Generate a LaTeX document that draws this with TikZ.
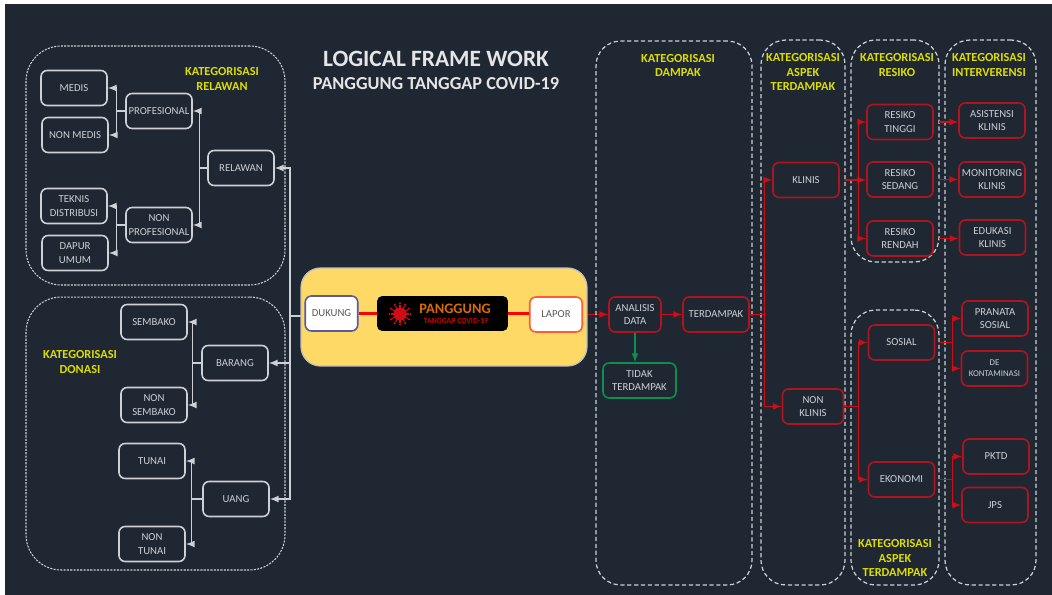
\documentclass[tikz,border=0pt]{standalone}
\usepackage{fontspec}
\setmainfont{Carlito}
\usepackage{tikz}
\usetikzlibrary{shapes}
\usetikzlibrary{arrows}
\usetikzlibrary{positioning}
\definecolor{latar}{HTML}{1F2733}
\definecolor{garis}{HTML}{CDD0D5}
\definecolor{merah}{HTML}{B0141E}
\definecolor{panah}{HTML}{D00C14}
\definecolor{judul}{HTML}{DDDD00}
\definecolor{hijau}{HTML}{0E8F4F}
\definecolor{emas}{HTML}{FFD966}
\pgfdeclarelayer{belakang}
\pgfsetlayers{belakang,main}
\tikzstyle{kotak}=[
        rectangle,
        draw,
        rounded corners=3.5pt,
        line width=0.9pt,
        minimum width=1.32cm,
        minimum height=0.7cm,
        inner sep=0pt,
        align=center,
        text=garis,
        font=\fontsize{6.1}{7.7}\selectfont
]
\tikzstyle{putih}=[kotak,draw=garis]
\tikzstyle{kotakmerah}=[kotak,draw=merah]
\tikzstyle{kotakhijau}=[kotak,draw=hijau,minimum width=1.46cm]
\tikzstyle{terang}=[kotak,fill=white,text=black!65,minimum width=1.05cm]
\tikzstyle{grupkiri}=[rectangle,draw=garis,line width=0.6pt,dash pattern=on 1.2pt off 0.7pt,rounded corners=20pt,inner sep=0pt]
\tikzstyle{grupkanan}=[rectangle,draw=garis,line width=0.7pt,dash pattern=on 2.4pt off 1.5pt,rounded corners=14pt,inner sep=0pt]
\tikzstyle{kategori}=[align=center,text=judul,inner sep=0pt,font=\fontsize{7}{8.3}\selectfont\bfseries]
\tikzstyle{panahputih}=[->,>=latex,draw=garis,line width=0.75pt]
\tikzstyle{panahmerah}=[->,>=latex,draw=panah,line width=0.75pt]
\begin{document}
\begin{tikzpicture}[x=0.02cm,y=-0.02cm]
\useasboundingbox (0,0) rectangle (1052,595);
\begin{pgfonlayer}{belakang}
\fill[latar] (5,4) rectangle (1052,595);
\end{pgfonlayer}
%grup
\node[grupkiri,minimum width=5.18cm,minimum height=4.78cm] (grelawan) at (155.5,165.5) {};
\node[grupkiri,minimum width=5.18cm,minimum height=5.46cm] (gdonasi) at (155.5,433.5) {};
\node[grupkanan,minimum width=3.12cm,minimum height=10.88cm] (gdampak) at (674,313) {};
\node[grupkanan,minimum width=1.68cm,minimum height=10.9cm] (gaspek) at (803,312.5) {};
\node[grupkanan,minimum width=1.76cm,minimum height=4.44cm] (gresiko) at (895,151) {};
\node[grupkanan,minimum width=1.76cm,minimum height=5.5cm] (gaspekdua) at (895,447.5) {};
\node[grupkanan,minimum width=1.82cm,minimum height=10.9cm] (gintervensi) at (990.5,312.5) {};
%judul
\node[text=white!90!black,inner sep=0pt,font=\fontsize{13.3}{16}\selectfont\bfseries] (judulsatu) at (436,59) {LOGICAL FRAME WORK};
\node[text=white!90!black,inner sep=0pt,font=\fontsize{10.4}{13}\selectfont\bfseries] (juduldua) at (436,83.5) {PANGGUNG TANGGAP COVID-19};
\node[kategori] (trelawan) at (222,79) {KATEGORISASI\\RELAWAN};
\node[kategori] (tdonasi) at (80,362) {KATEGORISASI\\DONASI};
\node[kategori] (tdampak) at (678,65.5) {KATEGORISASI\\DAMPAK};
\node[kategori] (taspek) at (803,72) {KATEGORISASI\\ASPEK\\TERDAMPAK};
\node[kategori] (tresiko) at (897,65) {KATEGORISASI\\RESIKO};
\node[kategori] (tintervensi) at (989,65) {KATEGORISASI\\INTERVERENSI};
\node[kategori] (taspekdua) at (895,558) {KATEGORISASI\\ASPEK\\TERDAMPAK};
%kiri
\node[putih] (medis) at (74,88) {MEDIS};
\node[putih] (nonmedis) at (75,135) {NON MEDIS};
\node[putih] (profesional) at (159,111) {PROFESIONAL};
\node[putih] (relawan) at (241,168) {RELAWAN};
\node[putih] (teknis) at (74,206) {TEKNIS\\DISTRIBUSI};
\node[putih] (dapur) at (75,253) {DAPUR\\UMUM};
\node[putih] (nonprofesional) at (159,225) {NON\\PROFESIONAL};
\node[putih] (sembako) at (154,322) {SEMBAKO};
\node[putih] (barang) at (235,363) {BARANG};
\node[putih] (nonsembako) at (154,405) {NON\\SEMBAKO};
\node[putih] (tunai) at (152,461) {TUNAI};
\node[putih] (uang) at (236,499) {UANG};
\node[putih] (nontunai) at (152,544) {NON\\TUNAI};
%tengah
\node[rectangle,draw=white!75!black,fill=emas,line width=0.7pt,rounded corners=11pt,minimum width=5.72cm,minimum height=1.96cm] (panel) at (444,317) {};
\node[terang,draw=blue!30!gray] (dukung) at (331.5,313.5) {DUKUNG};
\node[terang,draw=red!60!orange!80!white] (lapor) at (556,314.5) {LAPOR};
\node[rectangle,fill=black,rounded corners=3pt,minimum width=2.62cm,minimum height=0.7cm,inner sep=0pt] (logo) at (442.5,313.5) {};
\fill[panah] (400,314) circle (6.5);
\foreach \sudut in {0,30,...,330}{
\draw[panah,line width=0.6pt] (400,314) -- ++(\sudut:9);
\fill[panah] (400,314) ++(\sudut:10.5) circle (1.2);
}
\node[text=orange!85!black,inner sep=0pt,font=\fontsize{8.2}{10}\selectfont\bfseries] (panggung) at (455,309) {PANGGUNG};
\node[text=red!80!black,inner sep=0pt,font=\fontsize{4.4}{5}\selectfont\bfseries] (tanggap) at (456,320.5) {TANGGAP COVID-19};
%kanan
\node[kotakmerah,minimum width=1.04cm] (analisis) at (635,314.5) {ANALISIS\\DATA};
\node[kotakmerah] (terdampak) at (716,314.5) {TERDAMPAK};
\node[kotakhijau] (tidak) at (639.5,380.5) {TIDAK\\TERDAMPAK};
\node[kotakmerah] (klinis) at (806,180) {KLINIS};
\node[kotakmerah,minimum width=1.22cm] (nonklinis) at (813,406.5) {NON\\KLINIS};
\node[kotakmerah] (tinggi) at (900,122) {RESIKO\\TINGGI};
\node[kotakmerah] (sedang) at (900,179.5) {RESIKO\\SEDANG};
\node[kotakmerah] (rendah) at (900,238.5) {RESIKO\\RENDAH};
\node[kotakmerah] (sosial) at (901.5,342.5) {SOSIAL};
\node[kotakmerah] (ekonomi) at (901.5,479.5) {EKONOMI};
\node[kotakmerah] (asistensi) at (992,120.5) {ASISTENSI\\KLINIS};
\node[kotakmerah] (monitoring) at (992,179.5) {MONITORING\\KLINIS};
\node[kotakmerah] (edukasi) at (992.5,237.5) {EDUKASI\\KLINIS};
\node[kotakmerah] (pranata) at (995,318.5) {PRANATA\\SOSIAL};
\node[kotakmerah,font=\fontsize{5}{6.2}\selectfont] (kontaminasi) at (994.5,368.5) {DE\\KONTAMINASI};
\node[kotakmerah] (pktd) at (996,456.5) {PKTD};
\node[kotakmerah] (jps) at (995,505) {JPS};
%panah
\coordinate (simpul) at (290,316);
\coordinate (busrelawan) at (199.7,168);
\coordinate (busklinis) at (858.5,180);
\coordinate (busnonklinis) at (858.5,406.5);
\coordinate (bussosial) at (952.6,342.5);
\coordinate (busekonomi) at (952.6,479.5);
\begin{pgfonlayer}{belakang}
\draw[draw=garis,line width=0.75pt] (dukung.west |- simpul) -- (simpul);
\draw[panahmerah] (lapor.east) -- (analisis.west);
\end{pgfonlayer}
\draw[panahputih] (simpul) |- (relawan.east);
\draw[panahputih] (simpul) |- (barang.east);
\draw[panahputih] (simpul) |- (uang.east);
\draw[panahputih] (relawan.west) -- (busrelawan) |- (profesional.east);
\draw[panahputih] (relawan.west) -- (busrelawan) |- (nonprofesional.east);
\draw[panahputih] (profesional.west) -- ++(-9,0) |- (medis.east);
\draw[panahputih] (profesional.west) -- ++(-9,0) |- (nonmedis.east);
\draw[panahputih] (nonprofesional.west) -- ++(-9,0) |- (teknis.east);
\draw[panahputih] (nonprofesional.west) -- ++(-9,0) |- (dapur.east);
\draw[panahputih] (barang.west) -- ++(-9,0) |- (sembako.east);
\draw[panahputih] (barang.west) -- ++(-9,0) |- (nonsembako.east);
\draw[panahputih] (uang.west) -- ++(-11,0) |- (tunai.east);
\draw[panahputih] (uang.west) -- ++(-11,0) |- (nontunai.east);
\draw[red,line width=1.2pt] (dukung) -- (logo);
\draw[red,line width=1.2pt] (logo) -- (lapor.west |- logo);
\draw[panahmerah] (analisis) -- (terdampak);
\draw[->,>=latex,draw=hijau,line width=0.75pt] (analisis.south) -- (analisis.south |- tidak.north);
\draw[panahmerah] (terdampak.east) -- ++(15,0) |- (klinis.west);
\draw[panahmerah] (terdampak.east) -- ++(15,0) |- (nonklinis.west);
\draw[panahmerah] ([xshift=2.8pt]klinis.east) -- (busklinis) |- (tinggi.west);
\draw[panahmerah] ([xshift=2.8pt]klinis.east) -- (sedang.west |- klinis.east);
\draw[panahmerah] ([xshift=2.8pt]klinis.east) -- (busklinis) |- (rendah.west);
\draw[panahmerah] (nonklinis.east) -- (busnonklinis) |- (sosial.west);
\draw[panahmerah] (nonklinis.east) -- (busnonklinis) |- (ekonomi.west);
\draw[panahmerah] ([xshift=2.8pt]tinggi.east) -- (asistensi.west |- tinggi.east);
\draw[panahmerah] ([xshift=2.8pt]sedang.east) -- (monitoring.west);
\draw[panahmerah] ([xshift=2.8pt]rendah.east) -- (edukasi.west |- rendah.east);
\draw[panahmerah] ([xshift=2.8pt]sosial.east) -- (bussosial) |- (pranata.west);
\draw[panahmerah] ([xshift=2.8pt]sosial.east) -- (bussosial) |- (kontaminasi.west);
\draw[panahmerah] ([xshift=2.8pt]ekonomi.east) -- (busekonomi) |- (pktd.west);
\draw[panahmerah] ([xshift=2.8pt]ekonomi.east) -- (busekonomi) |- (jps.west);
\end{tikzpicture}
\end{document}
